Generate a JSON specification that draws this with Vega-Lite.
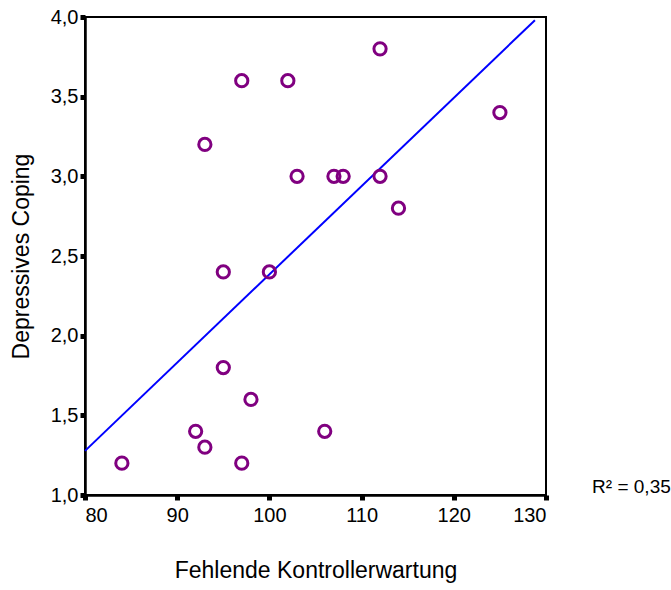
{
  "$schema": "https://vega.github.io/schema/vega-lite/v6.json",
  "autosize": "none",
  "width": 461,
  "height": 478,
  "padding": {"left": 85, "top": 17, "right": 125, "bottom": 95},
  "background": "white",
  "config": {
    "view": {"stroke": "black", "strokeWidth": 2},
    "axis": {
      "grid": false,
      "domainColor": "black",
      "domainWidth": 2.5,
      "tickColor": "black",
      "tickSize": 5,
      "tickWidth": 5,
      "labelFont": "Liberation Sans",
      "labelFontSize": 20,
      "labelColor": "black",
      "titleFont": "Liberation Sans",
      "titleFontSize": 23,
      "titleFontWeight": "normal",
      "titleColor": "black"
    }
  },
  "datasets": {
    "points": [
      {"x": 84, "y": 1.2},
      {"x": 92, "y": 1.4},
      {"x": 93, "y": 1.3},
      {"x": 97, "y": 1.2},
      {"x": 95, "y": 1.8},
      {"x": 98, "y": 1.6},
      {"x": 106, "y": 1.4},
      {"x": 95, "y": 2.4},
      {"x": 100, "y": 2.4},
      {"x": 93, "y": 3.2},
      {"x": 97, "y": 3.6},
      {"x": 102, "y": 3.6},
      {"x": 103, "y": 3.0},
      {"x": 107, "y": 3.0},
      {"x": 108, "y": 3.0},
      {"x": 112, "y": 3.0},
      {"x": 112, "y": 3.8},
      {"x": 114, "y": 2.8},
      {"x": 125, "y": 3.4}
    ],
    "fit": [
      {"x": 80, "y": 1.277},
      {"x": 128.8, "y": 3.98}
    ],
    "label": [
      {"x": 135, "y": 1.01, "text": "R² = 0,35"}
    ]
  },
  "layer": [
    {
      "data": {"name": "fit"},
      "mark": {"type": "line", "color": "#0000ff", "strokeWidth": 2},
      "encoding": {
        "x": {
          "field": "x", "type": "quantitative",
          "scale": {"domain": [80, 130], "nice": false, "zero": false},
          "axis": {"values": [80, 90, 100, 110, 120, 130], "title": "Fehlende Kontrollerwartung", "labelPadding": 5, "titlePadding": 34}
        },
        "y": {
          "field": "y", "type": "quantitative",
          "scale": {"domain": [1, 4], "nice": false, "zero": false},
          "axis": {"values": [1, 1.5, 2, 2.5, 3, 3.5, 4], "title": "Depressives Coping", "labelExpr": "replace(format(datum.value, '.1f'), '.', ',')", "labelPadding": 2, "titlePadding": 17}
        }
      }
    },
    {
      "data": {"name": "points"},
      "mark": {"type": "point", "shape": "circle", "filled": false, "color": "#800080", "strokeWidth": 3, "size": 150, "opacity": 1},
      "encoding": {
        "x": {"field": "x", "type": "quantitative"},
        "y": {"field": "y", "type": "quantitative"}
      }
    },
    {
      "data": {"name": "label"},
      "mark": {"type": "text", "align": "left", "baseline": "alphabetic", "font": "Liberation Sans", "fontSize": 19, "color": "black", "clip": false},
      "encoding": {
        "x": {"field": "x", "type": "quantitative"},
        "y": {"field": "y", "type": "quantitative"},
        "text": {"field": "text"}
      }
    }
  ]
}
